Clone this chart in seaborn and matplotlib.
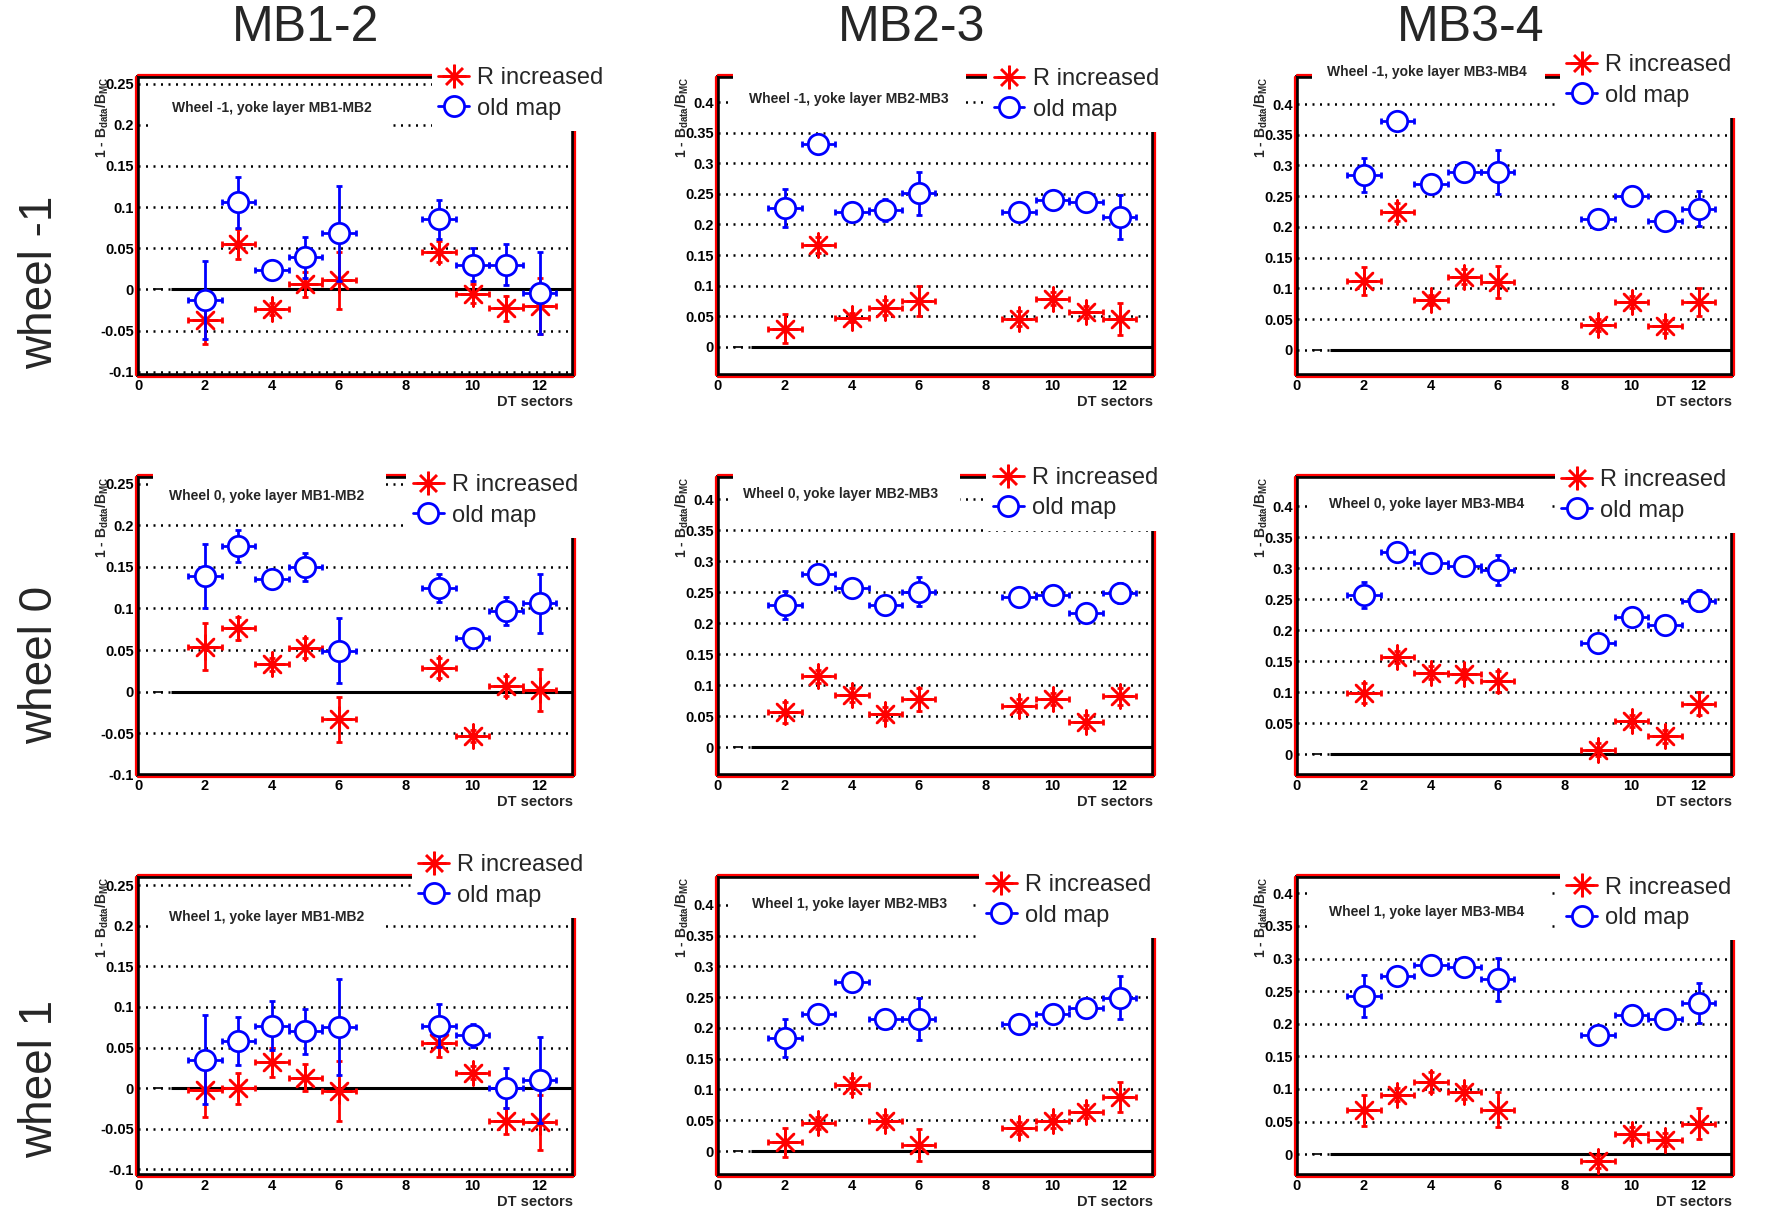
import numpy as np
import matplotlib
matplotlib.use("Agg")
import matplotlib.pyplot as plt
import seaborn as sns
from matplotlib.lines import Line2D
from matplotlib.patches import Rectangle
from matplotlib.ticker import MultipleLocator, FuncFormatter
from matplotlib.transforms import offset_copy

sectors = [2, 3, 4, 5, 6, 9, 10, 11, 12]
wheels = ["-1", "0", "1"]
layers = ["MB1-MB2", "MB2-MB3", "MB3-MB4"]
col_titles = ["MB1-2", "MB2-3", "MB3-4"]
series_labels = ["R increased", "old map"]

# wheel -1
r_wm1_12 = [-0.037, 0.055, -0.024, 0.006, 0.011, 0.046, -0.005, -0.023, -0.020]
r_wm1_12_err = [0.029, 0.018, 0.007, 0.015, 0.035, 0.013, 0.012, 0.015, 0.034]
o_wm1_12 = [-0.013, 0.106, 0.023, 0.039, 0.068, 0.085, 0.030, 0.030, -0.004]
o_wm1_12_err = [0.047, 0.031, 0.005, 0.025, 0.058, 0.024, 0.020, 0.025, 0.050]

r_wm1_23 = [0.030, 0.167, 0.048, 0.064, 0.075, 0.046, 0.079, 0.057, 0.046]
r_wm1_23_err = [0.024, 0.013, 0.007, 0.012, 0.024, 0.012, 0.010, 0.010, 0.026]
o_wm1_23 = [0.227, 0.331, 0.220, 0.224, 0.251, 0.220, 0.240, 0.237, 0.212]
o_wm1_23_err = [0.031, 0.009, 0.004, 0.018, 0.035, 0.010, 0.007, 0.010, 0.036]

r_wm1_34 = [0.112, 0.224, 0.081, 0.119, 0.110, 0.040, 0.078, 0.038, 0.078]
r_wm1_34_err = [0.022, 0.015, 0.008, 0.012, 0.026, 0.010, 0.010, 0.010, 0.023]
o_wm1_34 = [0.285, 0.372, 0.270, 0.289, 0.289, 0.213, 0.250, 0.209, 0.230]
o_wm1_34_err = [0.028, 0.010, 0.005, 0.010, 0.036, 0.010, 0.010, 0.010, 0.028]

# wheel 0
r_w0_12 = [0.054, 0.076, 0.033, 0.053, -0.033, 0.028, -0.053, 0.007, 0.002]
r_w0_12_err = [0.028, 0.014, 0.008, 0.012, 0.027, 0.012, 0.007, 0.012, 0.025]
o_w0_12 = [0.139, 0.175, 0.135, 0.150, 0.049, 0.125, 0.065, 0.097, 0.106]
o_w0_12_err = [0.039, 0.019, 0.008, 0.017, 0.039, 0.017, 0.008, 0.017, 0.035]

r_w0_23 = [0.056, 0.114, 0.084, 0.054, 0.077, 0.067, 0.078, 0.041, 0.082]
r_w0_23_err = [0.017, 0.010, 0.012, 0.010, 0.019, 0.010, 0.010, 0.010, 0.014]
o_w0_23 = [0.229, 0.280, 0.256, 0.229, 0.251, 0.242, 0.245, 0.216, 0.249]
o_w0_23_err = [0.023, 0.008, 0.004, 0.008, 0.023, 0.010, 0.006, 0.010, 0.016]

r_w0_34 = [0.099, 0.157, 0.132, 0.130, 0.118, 0.008, 0.054, 0.029, 0.082]
r_w0_34_err = [0.016, 0.010, 0.010, 0.008, 0.017, 0.010, 0.010, 0.010, 0.018]
o_w0_34 = [0.257, 0.326, 0.308, 0.303, 0.297, 0.180, 0.221, 0.208, 0.248]
o_w0_34_err = [0.021, 0.010, 0.007, 0.010, 0.024, 0.010, 0.010, 0.010, 0.017]

# wheel 1
r_w1_12 = [-0.002, 0.000, 0.032, 0.013, -0.003, 0.055, 0.019, -0.041, -0.042]
r_w1_12_err = [0.033, 0.019, 0.018, 0.017, 0.037, 0.017, 0.008, 0.016, 0.034]
o_w1_12 = [0.035, 0.058, 0.077, 0.070, 0.075, 0.077, 0.065, 0.000, 0.010]
o_w1_12_err = [0.055, 0.030, 0.030, 0.028, 0.059, 0.026, 0.014, 0.025, 0.053]

r_w1_23 = [0.014, 0.046, 0.107, 0.049, 0.010, 0.037, 0.048, 0.064, 0.088]
r_w1_23_err = [0.023, 0.010, 0.012, 0.010, 0.026, 0.010, 0.010, 0.010, 0.024]
o_w1_23 = [0.183, 0.223, 0.275, 0.215, 0.214, 0.207, 0.222, 0.232, 0.249]
o_w1_23_err = [0.031, 0.010, 0.012, 0.010, 0.034, 0.010, 0.010, 0.010, 0.035]

r_w1_34 = [0.067, 0.091, 0.111, 0.095, 0.068, -0.011, 0.031, 0.022, 0.047]
r_w1_34_err = [0.024, 0.010, 0.015, 0.010, 0.027, 0.010, 0.010, 0.010, 0.024]
o_w1_34 = [0.242, 0.273, 0.290, 0.287, 0.268, 0.183, 0.214, 0.208, 0.232]
o_w1_34_err = [0.032, 0.010, 0.010, 0.010, 0.033, 0.010, 0.010, 0.010, 0.031]

panels = [
    [(r_wm1_12, r_wm1_12_err, o_wm1_12, o_wm1_12_err),
     (r_wm1_23, r_wm1_23_err, o_wm1_23, o_wm1_23_err),
     (r_wm1_34, r_wm1_34_err, o_wm1_34, o_wm1_34_err)],
    [(r_w0_12, r_w0_12_err, o_w0_12, o_w0_12_err),
     (r_w0_23, r_w0_23_err, o_w0_23, o_w0_23_err),
     (r_w0_34, r_w0_34_err, o_w0_34, o_w0_34_err)],
    [(r_w1_12, r_w1_12_err, o_w1_12, o_w1_12_err),
     (r_w1_23, r_w1_23_err, o_w1_23, o_w1_23_err),
     (r_w1_34, r_w1_34_err, o_w1_34, o_w1_34_err)],
]

ylims = [
    [(-0.104, 0.258), (-0.046, 0.441), (-0.041, 0.444)],
    [(-0.100, 0.258), (-0.045, 0.436), (-0.033, 0.447)],
    [(-0.107, 0.260), (-0.039, 0.445), (-0.032, 0.425)],
]

# layout: title text (x, y, box top) and legend anchor (x, y), all in axes fraction
title_pos = [
    [(0.078, 0.896, 0.96), (0.071, 0.926, 1.03), (0.069, 1.016, 1.05)],
    [(0.071, 0.936, 1.03), (0.057, 0.942, 1.03), (0.074, 0.909, 0.99)],
    [(0.071, 0.866, 0.95), (0.078, 0.909, 0.99), (0.074, 0.883, 0.96)],
]
legend_pos = [
    [(0.690, 0.945), (0.634, 0.941), (0.619, 0.988)],
    [(0.632, 0.921), (0.632, 0.945), (0.608, 0.938)],
    [(0.644, 0.988), (0.616, 0.921), (0.619, 0.914)],
]

sns.set_theme(style="white")
plt.rcParams["font.family"] = ["Liberation Sans", "DejaVu Sans"]
plt.rcParams["font.weight"] = "bold"
plt.rcParams["mathtext.fontset"] = "custom"
plt.rcParams["mathtext.rm"] = "Liberation Sans:bold"
plt.rcParams["mathtext.it"] = "Liberation Sans:bold"
plt.rcParams["mathtext.bf"] = "Liberation Sans:bold"
plt.rcParams["mathtext.default"] = "bf"

STAR = (8, 2, 0)
fig = plt.figure(figsize=(17.67, 12.09), dpi=100)

lefts = [0.0781, 0.4063, 0.7340]
bottoms = [0.6898, 0.3590, 0.0281]
W, H = 0.2462, 0.2465


def fmt_y(v, pos):
    v = round(v, 3)
    if abs(v) < 1e-9:
        return "0"
    return f"{v:g}"


for i, wheel in enumerate(wheels):
    for j, layer in enumerate(layers):
        ax = fig.add_axes([lefts[j], bottoms[i], W, H])
        r_val, r_err, o_val, o_err = panels[i][j]
        ax.set_xlim(0, 13)
        ax.set_ylim(*ylims[i][j])
        ax.set_facecolor("white")

        ax.xaxis.set_major_locator(MultipleLocator(2))
        ax.xaxis.set_minor_locator(MultipleLocator(1))
        ax.yaxis.set_major_locator(MultipleLocator(0.05))
        ax.yaxis.set_minor_locator(MultipleLocator(0.01))
        ax.yaxis.set_major_formatter(FuncFormatter(fmt_y))
        ax.tick_params(axis="both", which="major", direction="in", length=9, width=2,
                       color="black", labelsize=10.5, pad=3, labelcolor="black")
        ax.tick_params(axis="both", which="minor", direction="in", length=5, width=1.5,
                       color="black")
        ax.tick_params(top=False, right=False, which="both")

        ax.grid(axis="y", which="major", color="black", linestyle=(0, (0.8, 2.2)),
                linewidth=1.8)
        ax.grid(axis="x", visible=False)
        ax.set_axisbelow(True)

        for sp in ax.spines.values():
            sp.set_visible(True)
            sp.set_color("black")
            sp.set_linewidth(2.6)
        for xs, ys, dx, dy in [([0, 0], [0, 1], -2, 0), ([0, 1], [0, 0], 0, -2),
                               ([1, 1], [0, 1], 2, 0), ([0, 1], [1, 1], 0, 2)]:
            tr = offset_copy(ax.transAxes, fig=fig, x=dx, y=dy, units="dots")
            ax.add_line(Line2D(xs, ys, transform=tr, color="red", lw=1.6,
                               clip_on=False, zorder=2.6))

        ax.hlines(0, 1.0, 13, color="black", lw=2.2, zorder=2)
        ax.hlines(0, 0.45, 0.75, color="black", lw=1.2, zorder=2)

        ax.errorbar(sectors, r_val, xerr=0.5, yerr=r_err, fmt="none", ecolor="red",
                    elinewidth=2, capsize=2.5, capthick=2, zorder=3)
        sns.scatterplot(x=sectors, y=r_val, marker=STAR, s=300, color="red",
                        edgecolor="red", linewidth=1.8, ax=ax, zorder=4, legend=False)
        ax.errorbar(sectors, o_val, xerr=0.5, yerr=o_err, fmt="none", ecolor="blue",
                    elinewidth=2, capsize=2.5, capthick=2, zorder=5)
        sns.scatterplot(x=sectors, y=o_val, marker="o", s=215, color="blue",
                        facecolor="white", edgecolor="blue", linewidth=2, ax=ax,
                        zorder=6, legend=False)
        ax.set_xlabel("")
        ax.set_ylabel("")

        # title box
        tx, ty, ttop = title_pos[i][j]
        ax.add_patch(Rectangle((0.035, ty - 0.07), tx + 0.5 - 0.035, ttop - (ty - 0.07),
                               transform=ax.transAxes, facecolor="white",
                               edgecolor="none", zorder=7, clip_on=False))
        ax.text(tx, ty, f"Wheel {wheel}, yoke layer {layer}", transform=ax.transAxes,
                ha="left", va="center", fontsize=10, fontweight="bold", zorder=8)

        # legend
        lx, ly = legend_pos[i][j]
        ax.add_patch(Rectangle((lx - 0.015, ly - 0.125), 0.5, 0.28,
                               transform=ax.transAxes, facecolor="white",
                               edgecolor="none", zorder=7, clip_on=False))
        handles = [
            Line2D([], [], color="red", marker=STAR, ms=17, mew=1.8, lw=2),
            Line2D([], [], color="blue", marker="o", ms=14.5, mfc="white", mew=2, lw=2),
        ]
        leg = ax.legend(handles, series_labels, loc="center left", bbox_to_anchor=(lx, ly),
                        frameon=False, handlelength=1.3, handletextpad=0.35,
                        labelspacing=0.35, borderpad=0, borderaxespad=0,
                        prop={"size": 17, "weight": "normal"})
        leg.set_zorder(9)

        ax.text(1.0, -0.092, "DT sectors", transform=ax.transAxes, ha="right",
                va="center", fontsize=10.5, fontweight="bold")
        ax.text(-0.082, 1.0, "1 - B$_{data}$/B$_{MC}$", transform=ax.transAxes,
                rotation=90, ha="center", va="top", fontsize=10, fontweight="bold")

for x, t in zip([0.173, 0.516, 0.8325], col_titles):
    fig.text(x, 0.977, t, ha="center", va="center", fontsize=36, fontweight="normal")
for y, w in zip([0.7668, 0.450, 0.1075], wheels):
    fig.text(0.0226, y, f"wheel {w}", rotation=90, ha="center", va="center",
             fontsize=33, fontweight="normal")

fig.savefig("out.png", dpi=100)
